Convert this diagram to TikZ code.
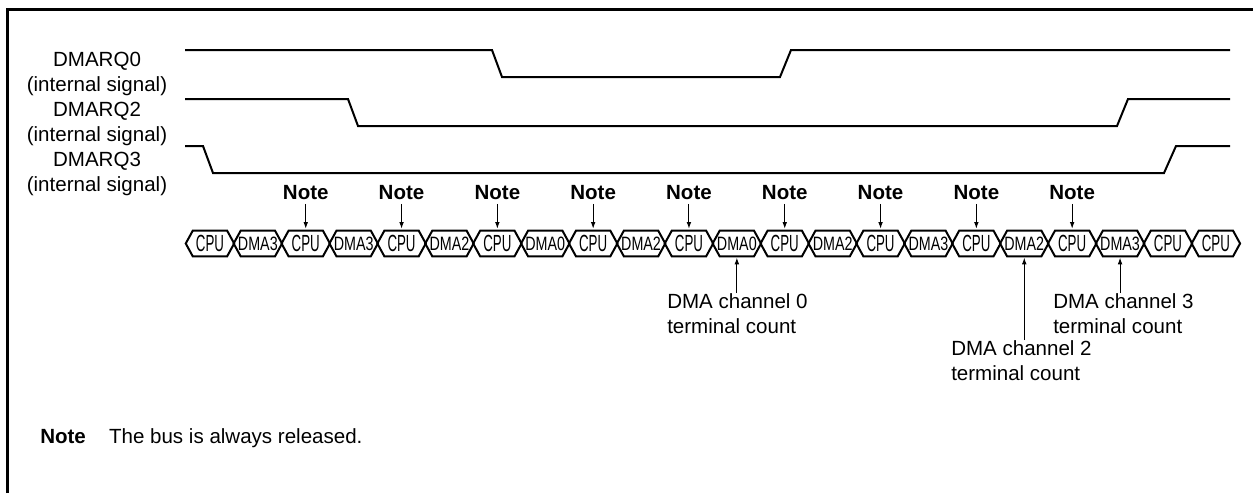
\documentclass[tikz,border=0pt]{standalone}
\usepackage{fontspec}
\setmainfont{Liberation Sans}
\usetikzlibrary{arrows.meta,positioning}

\newcommand\cpulab{\scalebox{0.57}[1]{\fontsize{17.5}{18}\selectfont CPU}}
\newcommand\dmalab[1]{\scalebox{0.74}[1]{\fontsize{14.5}{18}\selectfont DMA#1}}

\begin{document}
\begin{tikzpicture}[
  x=0.75pt, y=-0.75pt,
  lbl/.style={font=\fontsize{15.4}{18.75}\selectfont, inner sep=0pt},
  note/.style={font=\bfseries\fontsize{15.4}{18.75}\selectfont, inner sep=0pt},
  sig/.style={line width=1.5pt, line join=miter},
  bus/.style={line width=1.5pt, line join=miter},
  cell/.style={minimum width=35.925pt, minimum height=18.75pt, inner sep=0pt},
  arrow/.style={-{Latex[length=5pt, width=3.5pt]}, line width=0.75pt}
]
\useasboundingbox (0,0) rectangle (1253,493);
% frame
\draw[line width=2.25pt] (7,493) -- (7,9) -- (1253,9);

% request signals
\node[lbl, align=center] (rq0) at (97,74) {DMARQ0\\(internal signal)};
\node[lbl, align=center] (rq2) at (97,124) {DMARQ2\\(internal signal)};
\node[lbl, align=center] (rq3) at (97,174) {DMARQ3\\(internal signal)};
\draw[sig] (185,50) -- (492,50) -- (502,77) -- (780,77) -- (791,50) -- (1230,50);
\draw[sig] (185,99) -- (348,99) -- (358,126) -- (1117,126) -- (1128,99) -- (1230,99);
\draw[sig] (185,146) -- (203,146) -- (213,173) -- (1164,173) -- (1176,146) -- (1230,146);

% bus cycles
\foreach \lab [count=\i from 0] in {\cpulab,\dmalab3,\cpulab,\dmalab3,\cpulab,\dmalab2,\cpulab,\dmalab0,
    \cpulab,\dmalab2,\cpulab,\dmalab0,\cpulab,\dmalab2,\cpulab,\dmalab3,\cpulab,\dmalab2,\cpulab,\dmalab3,
    \cpulab,\cpulab} {
  \node[cell] (c\i) at ({186+47.9*(\i+0.5)},243.5) {\lab};
  \draw[bus] (c\i.west) -- ([xshift=5.25pt]c\i.north west) -- ([xshift=-5.25pt]c\i.north east)
    -- (c\i.east) -- ([xshift=-5.25pt]c\i.south east) -- ([xshift=5.25pt]c\i.south west) -- cycle;
}

% notes
\coordinate (noteY) at (0,193);
\foreach \i in {2,4,...,18} {
  \node[note] (n\i) at (c\i |- noteY) {Note};
  \draw[arrow, shorten <=2.5pt, shorten >=1.5pt] (n\i.south) -- (c\i.north);
}

% terminal counts
\node[lbl, align=left, anchor=north west] (tc0) at (667,293) {DMA channel 0\\terminal count};
\node[lbl, align=left, anchor=north west] (tc2) at (951,340) {DMA channel 2\\terminal count};
\node[lbl, align=left, anchor=north west] (tc3) at (1053,293) {DMA channel 3\\terminal count};
\draw[arrow, shorten >=1pt] (tc0.north -| c11) -- (c11.south);
\draw[arrow, shorten >=1pt] (tc2.north -| c17) -- (c17.south);
\draw[arrow, shorten >=1pt] (tc3.north -| c19) -- (c19.south);

% footnote
\node[note, anchor=west] (fn) at (40,437) {Note};
\node[lbl, anchor=base west] (fntext) at ([xshift=17pt]fn.base east) {The bus is always released.};
\end{tikzpicture}
\end{document}
